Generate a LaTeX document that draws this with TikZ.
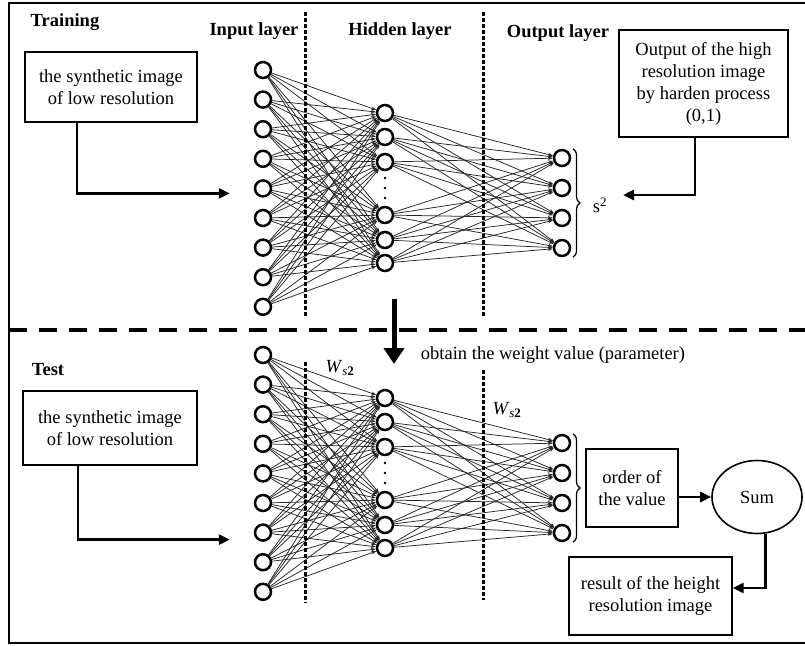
\documentclass[tikz,border=0pt]{standalone}
\usepackage{fontspec}
\setmainfont{Liberation Serif}
\usetikzlibrary{arrows.meta,decorations.pathreplacing,shapes.geometric,positioning}

\tikzset{
  neuron/.style={circle, draw, line width=2.5pt, minimum size=16pt, inner sep=0pt},
  wire/.style={line width=0.75pt, black!85, -{Stealth[length=5pt,width=3.5pt]}},
  txtbox/.style={draw, line width=1.4pt, align=center, inner sep=2pt},
  flow/.style={line width=2.8pt, -{Triangle[length=11pt,width=10pt]}},
  layerline/.style={line width=3pt, dash pattern=on 4pt off 2pt},
  laytitle/.style={font=\fontsize{18.5}{22}\selectfont\bfseries}
}

\begin{document}
\begin{tikzpicture}[x=1pt, y=-1pt, font=\fontsize{18.5}{22}\selectfont]
  \useasboundingbox (0,0) rectangle (805,645);
  \draw[line width=2pt] (812,3) -| (9,643) -- (812,643);

  \foreach \sec/\dy in {tr/0, te/285} {
    \begin{scope}[shift={(0,\dy)}]
      \foreach \i in {1,...,9}
        \node[neuron] (\sec-in\i) at (263,{70+29.6*(\i-1)}) {};
      \foreach \i/\y in {1/113, 2/137, 3/162, 4/215, 5/240, 6/263}
        \node[neuron] (\sec-hd\i) at (385,\y) {};
      \foreach \i in {1,...,4}
        \node[neuron] (\sec-out\i) at (562,{158+30*(\i-1)}) {};
      \foreach \y in {178,188,198}
        \fill (385,\y) circle (1.4pt);
      \foreach \i in {1,...,9}
        \foreach \j in {1,...,6}
          \draw[wire] (\sec-in\i) -- (\sec-hd\j);
      \foreach \i in {1,...,6}
        \foreach \j in {1,...,4}
          \draw[wire] (\sec-hd\i) -- (\sec-out\j);
      \draw[decorate, decoration={brace, amplitude=7pt}, line width=1.2pt]
        ([xshift=11pt]\sec-out1.north) -- ([xshift=11pt]\sec-out4.south);
    \end{scope}
  }

  \draw[layerline] (305,12) -- (305,318);
  \draw[layerline] (483,12) -- (483,318);
  \draw[layerline] (305,362) -- (305,603);
  \draw[layerline] (483,370) -- (483,600);
  \draw[line width=4.5pt, dash pattern=on 18pt off 12pt] (9,330) -- (805,330);

  % training part
  \node[laytitle] (train) at (65,22) {Training};
  \node[laytitle] (lay-in) at (254,31) {Input layer};
  \node[laytitle] (lay-hd) at (400,31) {Hidden layer};
  \node[laytitle] (lay-out) at (558,33) {Output layer};
  \node[txtbox, minimum width=172pt, minimum height=70pt] (tr-src) at (111,87)
    {the synthetic image\\of low resolution};
  \node[txtbox, minimum width=169pt, minimum height=107pt] (tr-hr) at (703.5,83.5)
    {Output of the high\\resolution image\\by harden process\\(0,1)};
  \node (s2) at (600,205) {s\textsuperscript{2}};
  \coordinate (tr-tip) at (623,195);
  \draw[flow] ([xshift=-34pt]tr-src.south) |- ([xshift=-24pt,yshift=-5pt]tr-in5.west);
  \draw[flow] ([xshift=-8.5pt]tr-hr.south) |- (tr-tip);

  \coordinate (wt-a) at (394,299);
  \coordinate (wt-b) at (394,364);
  \draw[line width=5pt, -{Triangle[length=16pt,width=20pt]}] (wt-a) -- (wt-b);
  \node (obtain) at (553,355) {obtain the weight value (parameter)};

  % test part
  \node[laytitle] (test) at (48,370) {Test};
  \node (te-w1) at (340,368) {\textit{W}\textsubscript{\textit{s}\textbf{2}}};
  \node (te-w2) at (507,410) {\textit{W}\textsubscript{\textit{s}\textbf{2}}};
  \node[txtbox, minimum width=174pt, minimum height=74pt] (te-src) at (110,428)
    {the synthetic image\\of low resolution};
  \draw[flow] ([xshift=-32pt]te-src.south) |- ([xshift=-24pt,yshift=-7pt]te-in7.west);
  \node[txtbox, minimum width=92pt, minimum height=78pt] (te-ord) at (632,488)
    {order of\\the value};
  \node[ellipse, draw, line width=1.6pt, minimum width=90pt, minimum height=73pt] (te-sum)
    at (757,497) {Sum};
  \node[txtbox, minimum width=163pt, minimum height=78pt] (te-res) at (650.5,596)
    {result of the height\\resolution image};
  \draw[flow] (te-ord.east |- te-sum.west) -- (te-sum.west);
  \draw[flow] (te-sum.-77) |- ([yshift=8pt]te-res.east);
\end{tikzpicture}
\end{document}
